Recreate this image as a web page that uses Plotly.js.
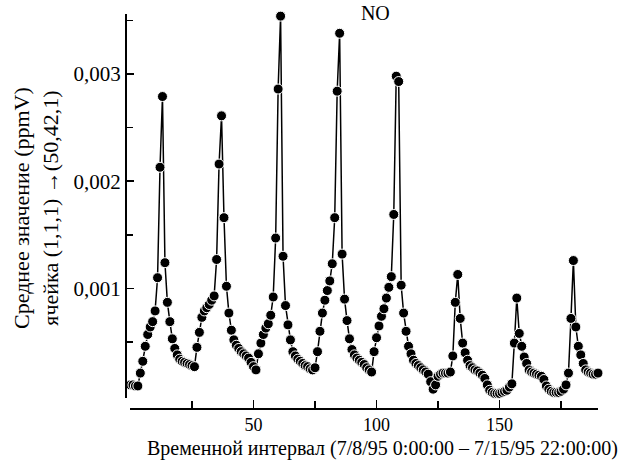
<!DOCTYPE html>
<html>
<head>
<meta charset="utf-8">
<script src="https://cdn.plot.ly/plotly-3.0.1.min.js"></script>
<style>html,body{margin:0;padding:0;background:#fff;}#chart{width:633px;height:461px;}</style>
</head>
<body>
<div id="chart"></div>
<script>
// Hour index within the interval 7/8/95 0:00 – 7/15/95 22:00
const hours = [0,1,2,3,4,5,6,7,8,9,10,11,12,13,14,15,16,17,18,19,20,21,22,23,24,25,26,27,28,29,
30,31,32,33,34,35,36,37,38,39,40,41,42,43,44,45,46,47,48,49,50,51,52,53,54,55,56,57,58,59,
60,61,62,63,64,65,66,67,68,69,70,71,72,73,74,75,76,77,78,79,80,81,82,83,84,85,86,87,88,89,
90,91,92,93,94,95,96,97,98,99,100,101,102,103,104,105,106,107,108,109,110,111,112,113,114,115,116,117,118,119,
120,121,122,123,124,125,126,127,128,129,130,131,132,133,134,135,136,137,138,139,140,141,142,143,144,145,146,147,148,149,
150,151,152,153,154,155,156,157,158,159,160,161,162,163,164,165,166,167,168,169,170,171,172,173,174,175,176,177,178,179,
180,181,182,183,184,185,186,187,188,189,190];

// NO mean concentration (ppmV)
const noValues = [
0.00010,0.00010,0.00009,0.00009,0.00021,0.00032,0.00046,0.00057,0.00064,0.00069,
0.00079,0.00110,0.00213,0.00279,0.00124,0.00087,0.00069,0.00053,0.00044,0.00038,
0.00034,0.00032,0.00031,0.00030,0.00029,0.00028,0.00027,0.00045,0.00059,0.00073,
0.00079,0.00082,0.00085,0.00089,0.00093,0.00127,0.00216,0.00261,0.00166,0.00102,
0.00077,0.00061,0.00052,0.00047,0.00044,0.00041,0.00039,0.00037,0.00035,0.00031,
0.00027,0.00024,0.00039,0.00049,0.00057,0.00063,0.00067,0.00075,0.00092,0.00147,
0.00286,0.00354,0.00130,0.00084,0.00066,0.00052,0.00041,0.00037,0.00034,0.00032,
0.00030,0.00028,0.00027,0.00025,0.00024,0.00026,0.00041,0.00060,0.00077,0.00089,
0.00098,0.00107,0.00123,0.00166,0.00284,0.00338,0.00132,0.00090,0.00070,0.00053,
0.00043,0.00038,0.00035,0.00033,0.00031,0.00029,0.00026,0.00024,0.00022,0.00041,
0.00054,0.00065,0.00074,0.00081,0.00091,0.00101,0.00111,0.00169,0.00298,0.00293,
0.00103,0.00077,0.00060,0.00046,0.00039,0.00033,0.00030,0.00028,0.00026,0.00024,
0.00022,0.00020,0.00013,0.00006,0.00010,0.00018,0.00020,0.00021,0.00021,0.00021,
0.00022,0.00037,0.00087,0.00113,0.00072,0.00049,0.00040,0.00033,0.00028,0.00026,
0.00024,0.00023,0.00021,0.00019,0.00016,0.00010,0.00005,0.00003,0.00002,0.00002,
0.00002,0.00003,0.00004,0.00005,0.00008,0.00011,0.00049,0.00091,0.00058,0.00046,
0.00036,0.00030,0.00024,0.00022,0.00021,0.00020,0.00019,0.00018,0.00015,0.00009,
0.00006,0.00004,0.00003,0.00003,0.00003,0.00004,0.00006,0.00010,0.00021,0.00072,
0.00126,0.00064,0.00046,0.00038,0.00030,0.00024,0.00022,0.00021,0.00020,0.00020,
0.00021];

const xTickVals = [50, 100, 150];
const xTickText = ['50', '100', '150'];
const xMinorVals = [25, 75, 125, 175];
const yTickVals = [0.001, 0.002, 0.003];
const yTickText = ['0,001', '0,002', '0,003'];
const yMinorVals = [0.0005, 0.0015, 0.0025, 0.0035];

const FONT = '"Liberation Serif", "Times New Roman", serif';

const trace = {
  x: hours,
  y: noValues,
  type: 'scatter',
  mode: 'lines+markers',
  cliponaxis: false,
  line: {color: '#000', width: 1.5},
  marker: {size: 10, color: '#000', line: {color: '#fff', width: 1}},
  showlegend: false,
  hoverinfo: 'x+y'
};

const layout = {
  width: 633,
  height: 461,
  margin: {l: 125, r: 35, t: 14, b: 53, pad: 0},
  paper_bgcolor: '#fff',
  plot_bgcolor: '#fff',
  font: {family: FONT, size: 20, color: '#000'},
  title: {
    text: 'NO',
    font: {family: FONT, size: 20, color: '#000'},
    x: 335 / 633, xanchor: 'center', xref: 'paper',
    y: 1 - 13 / 461, yanchor: 'middle', yref: 'container'
  },
  xaxis: {
    domain: [0.0116, 1],
    range: [0, 190],
    anchor: 'free',
    position: 0,
    showline: true, linecolor: '#000', linewidth: 1.5,
    showgrid: false, zeroline: false,
    ticks: 'inside', ticklen: 8, tickwidth: 1.5, tickcolor: '#000',
    tickmode: 'array', tickvals: xTickVals, ticktext: xTickText,
    tickfont: {family: FONT, size: 18, color: '#000'},
    minor: {tickmode: 'array', tickvals: xMinorVals, ticks: 'inside', ticklen: 7, tickwidth: 1.5, tickcolor: '#000', showgrid: false}
  },
  yaxis: {
    domain: [0.026, 1],
    range: [-0.00002, 0.00356],
    anchor: 'free',
    position: 0,
    showline: true, linecolor: '#000', linewidth: 1.5,
    showgrid: false, zeroline: false,
    ticks: 'inside', ticklen: 7, tickwidth: 1.5, tickcolor: '#000',
    tickmode: 'array', tickvals: yTickVals, ticktext: yTickText,
    tickfont: {family: FONT, size: 21, color: '#000'},
    minor: {tickmode: 'array', tickvals: yMinorVals, ticks: 'inside', ticklen: 6, tickwidth: 1.5, tickcolor: '#000', showgrid: false}
  },
  annotations: [
    {
      text: 'Среднее значение (ppmV)<br>ячейка (1,1,1) →(50,42,1)',
      textangle: -90,
      xref: 'paper', yref: 'paper',
      x: (36 - 125) / 473, y: (408 - 208) / 394,
      xanchor: 'center', yanchor: 'middle',
      showarrow: false,
      font: {family: FONT, size: 22, color: '#000'}
    },
    {
      text: 'Временной интервал (7/8/95 0:00:00 – 7/15/95 22:00:00)',
      xref: 'paper', yref: 'paper',
      x: (382 - 125) / 473, y: (408 - 449) / 394,
      xanchor: 'center', yanchor: 'middle',
      showarrow: false,
      font: {family: FONT, size: 20, color: '#000'}
    }
  ]
};

Plotly.newPlot('chart', [trace], layout, {displayModeBar: false, staticPlot: true});
</script>
</body>
</html>
